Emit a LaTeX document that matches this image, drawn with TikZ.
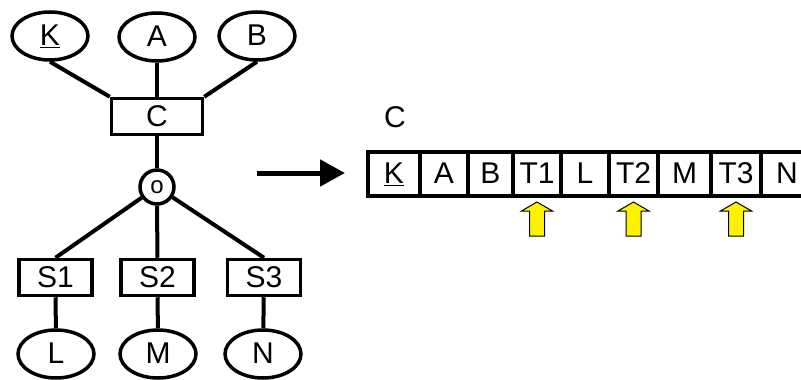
\documentclass[tikz,border=0pt]{standalone}
\usepackage{fontspec}
\setmainfont{Liberation Sans}
\usetikzlibrary{shapes.geometric}
\usetikzlibrary{positioning}
\usetikzlibrary{arrows.meta}
\newcommand{\bigtxt}{\fontsize{30}{32}\selectfont}
\tikzstyle{attr}=[ellipse, draw=black, line width=3.5pt, minimum width=76pt, minimum height=48pt, inner sep=0pt, text height=21pt, text depth=2pt, font=\bigtxt]
\tikzstyle{ent}=[rectangle, draw=black, line width=3.5pt, minimum width=73pt, minimum height=36pt, inner sep=0pt, text height=21pt, text depth=1pt, font=\bigtxt]
\tikzstyle{cell}=[rectangle, draw=black, line width=3.5pt, minimum height=44pt, inner sep=0pt, outer sep=0pt, text height=21pt, text depth=2pt, font=\bigtxt]
\tikzstyle{link}=[line width=4pt]
\tikzset{yarrow/.pic={
    \draw[fill=yellow, line width=1pt]
    (-7.5,17) -- (-7.5,-8) -- (-15.5,-8) -- (0,-17) -- (15.5,-8) -- (7.5,-8) -- (7.5,17) -- cycle;
  }
}

\begin{document}
\begin{tikzpicture}[x=1pt, y=-1pt]
          \useasboundingbox (0,0) rectangle (801,380);
          % entity with its attributes
          \node[attr] (attK) at (50,36){\underline{K}};
          \node[attr] (attA) at (157,37){A};
          \node[attr] (attB) at (257,36){B};
          \node[ent, minimum width=91pt] (entC) at (157,116.5){C};
          \node[circle, draw=black, line width=3.5pt, minimum size=34pt, inner sep=0pt, font=\fontsize{24}{24}\selectfont] (isa) at (157,187){o};
          \node[ent] (subS1) at (55.5,277.5){S1};
          \node[ent] (subS2) at (157.5,277.5){S2};
          \node[ent] (subS3) at (264,277.5){S3};
          \node[attr] (attL) at (56,354){L};
          \node[attr] (attM) at (158,354){M};
          \node[attr] (attN) at (263,354){N};
          \draw[link](attK.south) -- (entC.north west);
          \draw[link](attA) -- (entC);
          \draw[link](attB.south) -- (entC.north east);
          \draw[link](entC) -- (isa);
          \draw[link](isa) -- (subS1.north);
          \draw[link](isa) -- (subS2);
          \draw[link](isa) -- (subS3.north);
          \draw[link](subS1) -- (attL);
          \draw[link](subS2) -- (attM);
          \draw[link](subS3) -- (attN);
          % mapping arrow
          \coordinate (mapfrom) at (257,173);
          \coordinate (mapto) at (345,173);
          \draw[line width=5pt, -{Triangle[length=25pt,width=26pt]}](mapfrom) -- (mapto);
          % resulting table
          \node[font=\bigtxt] (tblname) at (395,117){C};
          \node[cell, minimum width=52pt] (colK) at (394,174){\underline{K}};
          \node[cell, minimum width=48pt, right=0pt of colK] (colA){A};
          \node[cell, minimum width=45pt, right=0pt of colA] (colB){B};
          \node[cell, minimum width=48pt, right=0pt of colB] (colT1){T1};
          \node[cell, minimum width=48pt, right=0pt of colT1] (colL){L};
          \node[cell, minimum width=49pt, right=0pt of colL] (colT2){T2};
          \node[cell, minimum width=53pt, right=0pt of colT2] (colM){M};
          \node[cell, minimum width=50pt, right=0pt of colM] (colT3){T3};
          \node[cell, minimum width=52pt, right=0pt of colT3] (colN){N};
          \pic at ([yshift=-23pt]colT1.south) {yarrow};
          \pic at ([yshift=-23pt]colT2.south) {yarrow};
          \pic at ([yshift=-23pt]colT3.south) {yarrow};
        \end{tikzpicture}
\end{document}
